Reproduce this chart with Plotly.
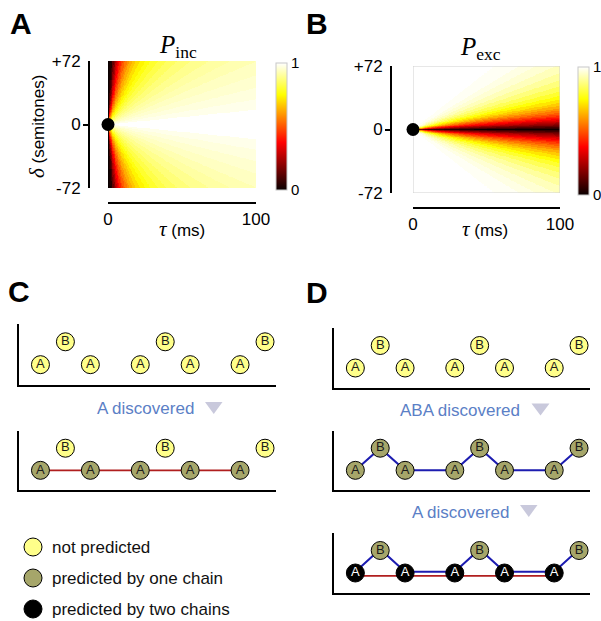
import numpy as np
import plotly.graph_objects as go

W, H = 601, 621


def px(x):
    return x / W


def py(y):
    return 1 - y / H


# ---------------------------------------------------------------- data
# Heatmap grids: tau (ms) along x, delta (semitones) along y
tau = np.arange(0.25, 100, 0.5)
delta = np.arange(-71.75, 72, 0.5)

# P_inc, tabulated against tau/|delta| (ms per semitone)
inc_ratio = [0.015, 0.025, 0.035, 0.045, 0.055, 0.065, 0.075, 0.085, 0.095, 0.11,
             0.125, 0.14, 0.16, 0.18, 0.2, 0.23, 0.26, 0.3, 0.35, 0.4, 0.47,
             0.55, 0.65, 0.78, 0.95, 1.15, 1.4, 1.8, 2.4, 3.5, 6.0]
inc_level = [0.0, 0.01, 0.036, 0.082, 0.135, 0.19, 0.24, 0.29, 0.33, 0.375, 0.425,
             0.47, 0.51, 0.555, 0.59, 0.63, 0.665, 0.70, 0.735, 0.766, 0.795,
             0.822, 0.846, 0.87, 0.89, 0.91, 0.924, 0.94, 0.953, 0.967, 0.979, 1.0]

# P_exc, tabulated against |delta|/tau (semitones per ms)
exc_slope = [0.006, 0.012, 0.018, 0.025, 0.032, 0.04, 0.05, 0.06, 0.07, 0.08,
             0.092, 0.105, 0.12, 0.135, 0.152, 0.17, 0.19, 0.215, 0.24, 0.27,
             0.3, 0.34, 0.38, 0.43, 0.49, 0.56, 0.64, 0.74, 0.86, 1.0, 1.3]
exc_level = [0.0, 0.035, 0.057, 0.081, 0.106, 0.132, 0.162, 0.194, 0.225, 0.255,
             0.286, 0.32, 0.357, 0.393, 0.43, 0.468, 0.506, 0.548, 0.59, 0.632,
             0.673, 0.715, 0.756, 0.796, 0.835, 0.872, 0.905, 0.933, 0.957, 0.974,
             0.989, 1.0]

onset_tau = [0]
onset_delta = [0]

tau_ticks = [0, 100]
delta_ticks = [-72, 0, 72]
delta_ticktext = ["-72", "0", "+72"]

# Tone sequence used in panels C and D (time in tone slots, pitch 0 = A, 1 = B)
seq_time = [0, 0.5, 1, 2, 2.5, 3, 4, 4.5]
seq_tone = ["A", "B", "A", "A", "B", "A", "A", "B"]
tone_pitch = {"A": 0, "B": 1}

legend_labels = ["not predicted", "predicted by one chain", "predicted by two chains"]

# ---------------------------------------------------------------- styles
HOT = [[0.0, "rgb(10,0,0)"], [0.375, "rgb(255,0,0)"],
       [0.75, "rgb(255,255,0)"], [1.0, "rgb(255,255,255)"]]
YELLOW = "#ffff8a"
OLIVE = "#a6a66a"
BLACK = "#000000"
RED = "#b01e1e"
BLUE = "#1c1cb0"
NOTE = "#5b80c6"
TRI = "#c9c9dc"
SANS = "Liberation Sans"
SERIF = "Liberation Serif"

T, D = np.meshgrid(tau, delta)
with np.errstate(divide="ignore"):
    ms_per_semi = T / np.abs(D)
    semi_per_ms = np.abs(D) / T
z_inc = np.array(inc_level)[np.searchsorted(inc_ratio, ms_per_semi, side="right")]
z_exc = np.array(exc_level)[np.searchsorted(exc_slope, semi_per_ms, side="right")]

fig = go.Figure()
layout = dict(width=W, height=H,
              margin=dict(l=0, r=0, t=0, b=0, autoexpand=False),
              paper_bgcolor="white", plot_bgcolor="rgba(0,0,0,0)",
              showlegend=False, font=dict(family=SANS, size=17, color="black"))
annotations = []
shapes = []


def heat_panel(n, ov, z, x0, x1, y0, y1, yline, xline, cb_x, cb_y0, cb_y1, frame):
    xa, ya = ("x", "y") if n == 1 else (f"x{n}", f"y{n}")
    fig.add_trace(go.Heatmap(
        x=tau, y=delta, z=z, xaxis=xa, yaxis=ya, colorscale=HOT, zmin=0, zmax=1,
        hoverinfo="skip",
        colorbar=dict(x=px(cb_x), xanchor="left", y=py(cb_y1), yanchor="bottom",
                      len=cb_y1 - cb_y0, lenmode="pixels", thickness=11,
                      thicknessmode="pixels", xpad=0, ypad=0, outlinewidth=1,
                      outlinecolor="#c8c8c8", tickvals=[0, 1], ticktext=["0", "1"],
                      ticks="", tickfont=dict(size=15, family=SANS))))
    if frame:
        # thin frame round the map, kept under the onset dot
        lo, hi = tau_ticks[0], tau_ticks[-1]
        dlo, dhi = delta_ticks[0], delta_ticks[-1]
        fig.add_trace(go.Scatter(x=[lo, hi, hi, lo, lo], y=[dlo, dlo, dhi, dhi, dlo],
                                 xaxis=xa, yaxis=ya, mode="lines", hoverinfo="skip",
                                 cliponaxis=False, line=dict(color="#d0d0d0", width=1)))
    fig.add_trace(go.Scatter(x=onset_tau, y=onset_delta, xaxis=xa, yaxis=ya,
                             mode="markers", cliponaxis=False, hoverinfo="skip",
                             marker=dict(size=13, color="black")))
    # empty trace so the overlay axis carrying the end ticks is drawn
    fig.add_trace(go.Scatter(x=[None], y=[None], xaxis=xa, yaxis=f"y{ov}",
                             mode="markers", hoverinfo="skip"))
    key = "" if n == 1 else str(n)
    layout["xaxis" + key] = dict(
        domain=[px(x0), px(x1)], range=[0, 100], anchor="free", position=py(xline),
        showline=True, linecolor="black", linewidth=2, ticks="inside", ticklen=5,
        tickwidth=2, tickcolor="black", tickvals=tau_ticks,
        ticklabelstandoff=1, tickfont=dict(size=17), showgrid=False,
        zeroline=False, fixedrange=True)
    layout["yaxis" + key] = dict(
        domain=[py(y1), py(y0)], range=[-72, 72], anchor="free", position=px(yline),
        showline=True, linecolor="black", linewidth=2, ticks="",
        tickvals=delta_ticks, ticktext=delta_ticktext, ticklabelstandoff=4,
        tickfont=dict(size=17), showgrid=False, zeroline=False, fixedrange=True,
        minor=dict(tickmode="array", tickvals=[0], ticks="outside", ticklen=5,
                   tickwidth=2, tickcolor="black", showgrid=False))
    layout[f"yaxis{ov}"] = dict(
        overlaying=ya, anchor="free", position=px(yline), side="left",
        range=[-72, 72], tickvals=[-72, 72], ticks="inside", ticklen=5,
        tickwidth=2, tickcolor="black", showticklabels=False, showline=False,
        showgrid=False, zeroline=False, fixedrange=True)


heat_panel(1, 3, z_inc, 108, 256, 61, 188, 89, 203, 276, 63, 190, False)
heat_panel(2, 4, z_exc, 413, 560, 66, 193, 391, 208, 578, 67, 195, True)


def ann(text, x, y, size=17, color="black", family=SANS, xanchor="center",
        yanchor="middle", angle=0, xref="paper", yref="paper"):
    annotations.append(dict(text=text, x=x, y=y, xref=xref, yref=yref,
                            showarrow=False, xanchor=xanchor, yanchor=yanchor,
                            textangle=angle,
                            font=dict(size=size, color=color, family=family)))


ital = "<span style='font-family:Liberation Serif;font-style:italic;font-size:21px'>{}</span>"
ann("<i>P</i><sub>inc</sub>", px(178), py(46), size=25, family=SERIF)
ann("<i>P</i><sub>exc</sub>", px(480), py(48), size=25, family=SERIF)
ann(ital.format("τ") + " (ms)", px(182), py(229), size=17)
ann(ital.format("τ") + " (ms)", px(485), py(229), size=17)
ann(ital.format("δ") + " (semitones)", px(37), py(127), size=17, angle=-90)

for letter, x, y in [("A", 21, 24), ("B", 317, 24), ("C", 19, 291), ("D", 317, 292)]:
    ann(f"<b>{letter}</b>", px(x), py(y), size=30)

# ---------------------------------------------------------------- sequence panels
X_RANGE = [-0.43, 4.72]
Y_RANGE = [-0.889, 1.778]


def seq_axes(n, x0, x1, ytop, ybot):
    layout[f"xaxis{n}"] = dict(domain=[px(x0), px(x1)], range=X_RANGE, anchor=f"y{n}",
                               showline=True, linecolor="black", linewidth=2, ticks="",
                               showticklabels=False, showgrid=False, zeroline=False,
                               fixedrange=True)
    layout[f"yaxis{n}"] = dict(domain=[py(ybot), py(ytop)], range=Y_RANGE, anchor=f"x{n}",
                               showline=True, linecolor="black", linewidth=2, ticks="",
                               showticklabels=False, showgrid=False, zeroline=False,
                               fixedrange=True)


def chain(n, idx, color, width, shift=0.0):
    fig.add_trace(go.Scatter(
        x=[seq_time[i] for i in idx],
        y=[tone_pitch[seq_tone[i]] + shift for i in idx],
        xaxis=f"x{n}", yaxis=f"y{n}", mode="lines", hoverinfo="skip",
        line=dict(color=color, width=width), cliponaxis=False))


def tones(n, fill_a, fill_b):
    fills = [fill_a if t == "A" else fill_b for t in seq_tone]
    txt_col = ["white" if f == BLACK else "#1a1a1a" for f in fills]
    fig.add_trace(go.Scatter(
        x=seq_time, y=[tone_pitch[t] for t in seq_tone], xaxis=f"x{n}", yaxis=f"y{n}",
        mode="markers+text", text=seq_tone, textposition="middle center",
        textfont=dict(size=13, color=txt_col, family=SANS), cliponaxis=False,
        hoverinfo="skip",
        marker=dict(size=18, color=fills, line=dict(color="black", width=1))))


a_idx = [i for i, t in enumerate(seq_tone) if t == "A"]
all_idx = list(range(len(seq_tone)))

# C, before and after "A" is discovered
seq_axes(5, 19, 276, 324, 385)
tones(5, YELLOW, YELLOW)
seq_axes(6, 19, 276, 431, 490)
chain(6, a_idx, RED, 1.8)
tones(6, OLIVE, YELLOW)

# D, before, after "ABA" and after "A"
seq_axes(7, 334, 590, 328, 388)
tones(7, YELLOW, YELLOW)
seq_axes(8, 334, 590, 431, 490)
chain(8, all_idx, BLUE, 2)
tones(8, OLIVE, OLIVE)
seq_axes(9, 334, 590, 533, 593)
chain(9, a_idx, RED, 1.8, shift=-0.13)
chain(9, all_idx, BLUE, 2, shift=0.06)
tones(9, BLACK, OLIVE)


def discovered(text, cx, cy, tx0, tx1, ty0, ty1):
    ann(text, px(cx), py(cy), size=17, color=NOTE)
    shapes.append(dict(type="path", xref="paper", yref="paper",
                       path=f"M {px(tx0)},{py(ty0)} L {px(tx1)},{py(ty0)} "
                            f"L {px((tx0 + tx1) / 2)},{py(ty1)} Z",
                       fillcolor=TRI, line=dict(width=0)))


discovered("A discovered", 145, 408, 205, 222.5, 402, 414)
discovered("ABA discovered", 460, 410, 531.5, 549.5, 403.5, 415.5)
discovered("A discovered", 460, 512, 520, 537.5, 505, 517)

# ---------------------------------------------------------------- legend
rows = list(range(len(legend_labels)))
fig.add_trace(go.Scatter(
    x=[0] * len(rows), y=rows, xaxis="x10", yaxis="y10", mode="markers",
    hoverinfo="skip", cliponaxis=False,
    marker=dict(size=18, color=[YELLOW, OLIVE, BLACK], line=dict(color="black", width=1))))
layout["xaxis10"] = dict(domain=[px(20), px(46)], range=[-1, 1], anchor="y10",
                         visible=False, fixedrange=True)
layout["yaxis10"] = dict(domain=[py(620), py(536)], range=[2.355, -0.355], anchor="x10",
                         visible=False, fixedrange=True)
for r, label in zip(rows, legend_labels):
    ann(label, px(50), r, size=17, color="#111111", xanchor="left", yref="y10")

layout["annotations"] = annotations
layout["shapes"] = shapes
fig.update_layout(**layout)
fig.write_html("out.html")
